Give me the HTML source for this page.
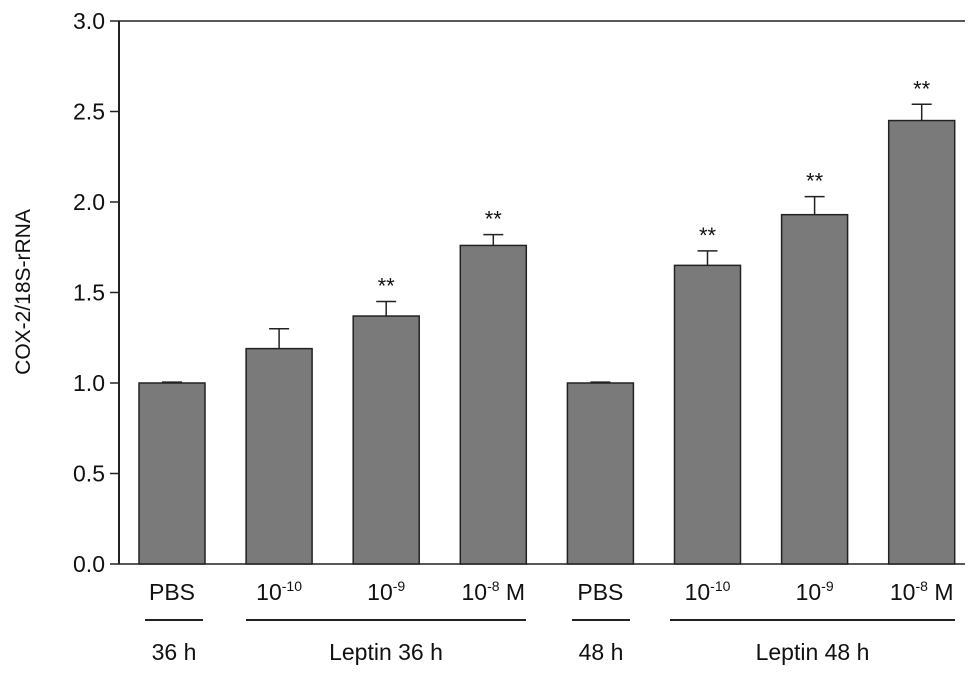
<!DOCTYPE html>
<html><head><meta charset="utf-8"><style>
body{margin:0;background:#fff}
svg text{font-family:"Liberation Sans",sans-serif;fill:#111}
</style></head><body>
<svg id="chart" width="969" height="673" viewBox="0 0 969 673" xmlns="http://www.w3.org/2000/svg">
<g id="axes"></g><g id="bars"></g><g id="labels"></g>
</svg>
<script>
const categories=["PBS","10-10","10-9","10-8 M","PBS","10-10","10-9","10-8 M"];
const values=[1.0,1.19,1.37,1.76,1.0,1.65,1.93,2.45];
const errors=[0.005,0.11,0.08,0.06,0.005,0.08,0.10,0.09];
const sig=["","","**","**","","**","**","**"];
const yTicks=[0,0.5,1.0,1.5,2.0,2.5,3.0];
const yTickLabels=["0.0","0.5","1.0","1.5","2.0","2.5","3.0"];
const NS="http://www.w3.org/2000/svg";
const x0=119,x1=965,yBase=564,yTop=21;
const y=v=>yBase-(v/3)*(yBase-yTop);
const xc=i=>172+i*107.1;
const bw=66;
function mk(tag,attrs,parent,text){const e=document.createElementNS(NS,tag);for(const k in attrs)e.setAttribute(k,attrs[k]);if(text!==undefined)e.textContent=text;parent.appendChild(e);return e;}
const axes=document.getElementById('axes'),bars=document.getElementById('bars'),labels=document.getElementById('labels');
let e=mk('line',{x1:x0,y1:yTop,x2:x0,y2:yBase,stroke:'#222','stroke-width':2},axes);

e=mk('line',{x1:x0,y1:yBase,x2:x1,y2:yBase,stroke:'#222','stroke-width':1.5},axes);

e=mk('line',{x1:x0,y1:yTop,x2:x1,y2:yTop,stroke:'#222','stroke-width':1.5},axes);

yTicks.forEach((t,i)=>{
 const l=mk('line',{x1:x0-9,y1:y(t),x2:x0,y2:y(t),stroke:'#222','stroke-width':1.5},axes);
 
 const tx=mk('text',{x:x0-14,y:y(t)+8,'text-anchor':'end','font-size':23},axes,yTickLabels[i]);
 
});
e=mk('text',{x:30,y:292,'text-anchor':'middle','font-size':21,transform:'rotate(-90 30 292)'},axes,'COX-2/18S-rRNA');

values.forEach((v,i)=>{
 const cx=xc(i),ty=y(v+errors[i]);
 const el=mk('line',{x1:cx,y1:y(v),x2:cx,y2:ty,stroke:'#222','stroke-width':1.5},bars);
 
 const cap=mk('line',{x1:cx-10,y1:ty,x2:cx+10,y2:ty,stroke:'#222','stroke-width':1.5},bars);
 
 const r=mk('rect',{x:cx-bw/2,y:y(v),width:bw,height:yBase-y(v),fill:'#7a7a7a',stroke:'#222','stroke-width':1.5},bars);
 
 if(sig[i]){const s=mk('text',{x:cx,y:ty-8,'text-anchor':'middle','font-size':22},bars,sig[i]);
 }
 const c=categories[i];
 const t=mk('text',{x:cx,y:600,'text-anchor':'middle','font-size':23},labels);
 
 if(c==='PBS'){t.textContent='PBS';}
 else{const m=c.match(/^10(-\d+)(.*)$/);
  mk('tspan',{},t,'10');mk('tspan',{dy:-9,'font-size':14},t,m[1]);
  if(m[2])mk('tspan',{dy:9},t,m[2]);}
});
const groups=[["36 h",145,203],["Leptin 36 h",246,526],["48 h",572,630],["Leptin 48 h",670,955]];
groups.forEach(g=>{
 const l=mk('line',{x1:g[1],y1:620,x2:g[2],y2:620,stroke:'#222','stroke-width':2},labels);
 
 const t=mk('text',{x:(g[1]+g[2])/2,y:660,'text-anchor':'middle','font-size':23},labels,g[0]);
 
});
</script>
</body></html>
